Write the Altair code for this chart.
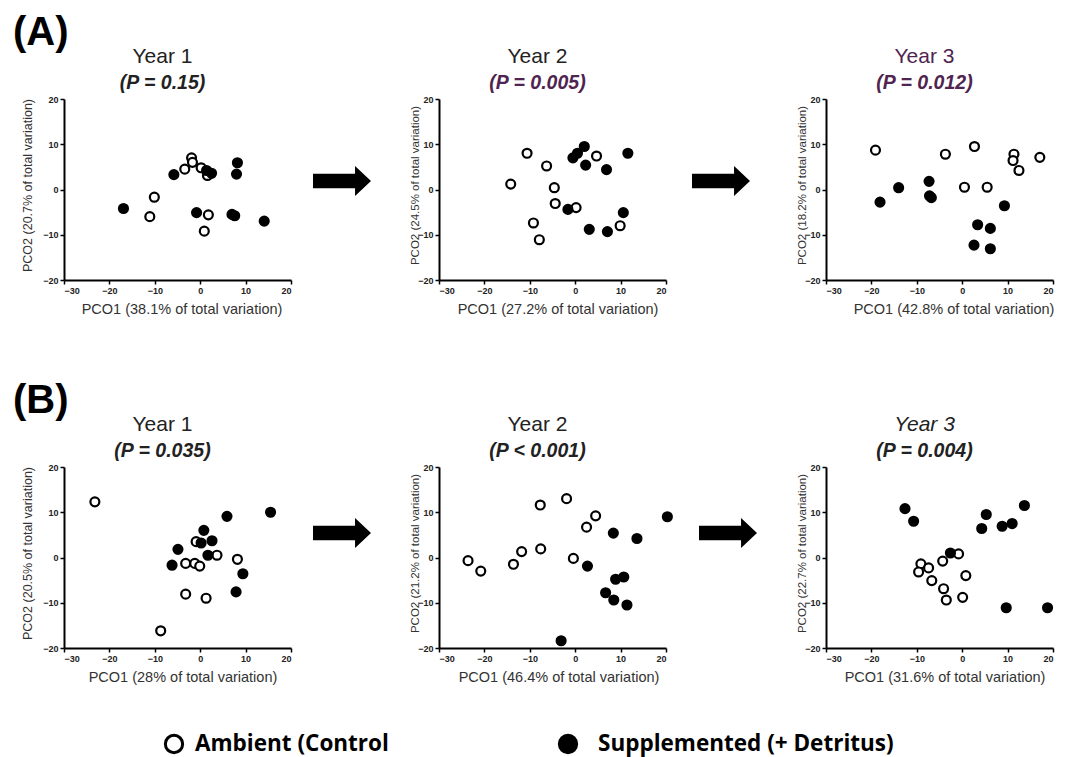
import altair as alt
import pandas as pd

# ---------------- data (PCO1, PCO2) ----------------
A1_AMB = [(-10.1, -1.7), (-11.1, -6.0), (1.8, -5.6), (0.9, -9.2), (-1.9, 7.0),
          (-1.7, 6.0), (-3.4, 4.5), (0.2, 4.8), (2.2, 3.6), (1.6, 3.1)]
A1_SUP = [(-16.9, -4.2), (-5.8, 3.3), (-0.8, -5.1), (1.4, 4.2), (2.5, 3.6),
          (8.2, 5.9), (8.0, 3.4), (7.0, -5.5), (7.6, -5.8), (14.1, -7.0)]

A2_AMB = [(-14.2, 1.2), (-10.6, 8.0), (-6.3, 5.2), (-4.6, 0.4), (-4.4, -3.1),
          (-9.2, -7.4), (-7.9, -11.1), (0.2, -4.0), (4.7, 7.4), (9.9, -8.0)]
A2_SUP = [(-0.5, 7.0), (0.5, 8.0), (2.0, 9.5), (2.3, 5.4), (6.9, 4.4),
          (11.6, 8.0), (-1.6, -4.4), (3.1, -8.8), (7.1, -9.3), (10.6, -5.1)]

A3_AMB = [(-19.1, 8.7), (-3.7, 7.8), (2.7, 9.5), (0.5, 0.5), (5.5, 0.5),
          (11.4, 7.8), (11.2, 6.4), (12.5, 4.2), (17.1, 7.1)]
A3_SUP = [(-18.1, -2.8), (-14.0, 0.4), (-7.3, 1.8), (-7.2, -1.4), (-6.8, -1.8),
          (3.4, -7.8), (6.2, -8.6), (2.6, -12.3), (6.2, -13.1), (9.3, -3.6)]

B1_AMB = [(-23.2, 12.3), (-8.7, -16.2), (-3.2, -8.1), (1.3, -9.0), (-3.2, -1.3),
          (-1.2, -1.3), (-0.1, -1.9), (-0.9, 3.5), (3.7, 0.5), (8.2, -0.4)]
B1_SUP = [(-4.9, 1.8), (-6.2, -1.7), (0.8, 6.0), (0.2, 3.2), (2.6, 3.7),
          (1.7, 0.5), (5.9, 9.1), (15.5, 10.0), (9.4, -3.6), (7.9, -7.6)]

B2_AMB = [(-23.6, -0.7), (-20.8, -3.0), (-13.6, -1.5), (-11.8, 1.3), (-7.6, 1.9),
          (-7.7, 11.6), (-1.9, 13.0), (-0.4, -0.2), (2.5, 6.7), (4.5, 9.2)]
B2_SUP = [(-3.1, -18.4), (2.7, -1.9), (8.4, 5.4), (13.6, 4.2), (20.3, 9.0),
          (6.7, -7.8), (8.5, -9.4), (8.9, -4.8), (10.7, -4.3), (11.4, -10.5)]

B3_AMB = [(-0.8, 0.8), (-4.3, -0.8), (-9.1, -1.4), (-7.4, -2.3), (-9.6, -3.2),
          (-6.7, -5.1), (0.8, -4.0), (-4.1, -6.9), (-3.5, -9.4), (0.1, -8.8)]
B3_SUP = [(-12.6, 10.8), (-10.7, 8.0), (5.3, 9.5), (4.3, 6.4), (8.8, 6.9),
          (11.0, 7.5), (13.7, 11.5), (-2.6, 1.0), (9.7, -11.1), (18.8, -11.1)]

GROUPS = ["Ambient (Control)", "Supplemented (+ Detritus)"]
LEGEND_TEXT = ["Ambient (Control", "Supplemented (+ Detritus)"]
YEARS = ["Year 1", "Year 2", "Year 3"]
P_A = ["(P = 0.15)", "(P = 0.005)", "(P = 0.012)"]
P_B = ["(P = 0.035)", "(P < 0.001)", "(P = 0.004)"]
PCO1_A = ["38.1", "27.2", "42.8"]
PCO2_A = ["20.7", "24.5", "18.2"]
PCO1_B = ["28", "46.4", "31.6"]
PCO2_B = ["20.5", "21.2", "22.7"]
X_TICKS = [-30, -20, -10, 0, 10, 20]
Y_TICKS = [-20, -10, 0, 10, 20]

# ---------------- styling ----------------
W, H = 227, 181
DARK = "#222222"
PURPLE = "#4f2450"
FONT = "Liberation Sans"
BIGFONT = "Open Sans"
ARROW = "M-1,-0.25L0.45,-0.25L0.45,-0.52L1,0L0.45,0.52L0.45,0.25L-1,0.25Z"


def make_df(amb, sup):
    rows = [{"pco1": x, "pco2": y, "group": GROUPS[0]} for x, y in amb]
    rows += [{"pco1": x, "pco2": y, "group": GROUPS[1]} for x, y in sup]
    return pd.DataFrame(rows)


def label(text, x, y, size, color=DARK, weight="normal", style="normal",
          align="center", font=FONT, baseline="alphabetic"):
    return alt.Chart(pd.DataFrame({"t": [text]})).mark_text(
        align=align, baseline=baseline, font=font, fontSize=size,
        fontWeight=weight, fontStyle=style, color=color
    ).encode(x=alt.value(x), y=alt.value(y), text="t:N")


def legend_dot(x, y, fill):
    return alt.Chart(pd.DataFrame({"t": [0]})).mark_point(
        shape="circle", size=300, filled=True, fill=fill, stroke="black",
        strokeWidth=3, opacity=1
    ).encode(x=alt.value(x), y=alt.value(y))


def panel(amb, sup, year, ptxt, pco1, pco2, col, ycolor=DARK, pcolor=DARK,
          yitalic=False, xt_dx=5, extra=()):
    df = make_df(amb, sup)
    pts = alt.Chart(df).mark_circle(
        size=80, stroke="black", strokeWidth=2.2, opacity=1
    ).encode(
        x=alt.X("pco1:Q", scale=alt.Scale(domain=[-30, 20], nice=False, zero=False),
                axis=alt.Axis(values=X_TICKS, title=f"PCO1 ({pco1}% of total variation)",
                              titleFontSize=14.5, titleX=W / 2 + xt_dx, titleY=22)),
        y=alt.Y("pco2:Q", scale=alt.Scale(domain=[-20, 20], nice=False, zero=False),
                axis=alt.Axis(values=Y_TICKS, title=f"PCO2 ({pco2}% of total variation)",
                              titleFontSize=12.5 if col == 0 else 11.5,
                              titleX=-36.5 if col == 0 else -24, titleY=86,
                              titleBaseline="middle")),
        fill=alt.Fill("group:N", scale=alt.Scale(domain=GROUPS, range=["white", "black"]),
                      legend=None),
    )
    layers = [
        pts,
        label(year, W / 2 - 15, -36, 21, color=ycolor,
              style="italic" if yitalic else "normal"),
        label(ptxt, W / 2 - 15, -10, 19.5, color=pcolor, weight="bold", style="italic"),
    ] + list(extra)
    return alt.layer(*layers).properties(width=W, height=H)


def arrow(w, cx, cy):
    return alt.Chart(pd.DataFrame({"a": [0]})).mark_point(
        shape=ARROW, size=3364, filled=True, color="black", opacity=1, strokeWidth=0
    ).encode(x=alt.value(cx), y=alt.value(cy)).properties(width=w, height=H)


A1 = panel(A1_AMB, A1_SUP, YEARS[0], P_A[0], PCO1_A[0], PCO2_A[0], 0, xt_dx=4,
           extra=[label("(A)", -51, -66, 40, color="black", weight="bold",
                        align="left", font=FONT, baseline="middle")])
A2 = panel(A2_AMB, A2_SUP, YEARS[1], P_A[1], PCO1_A[1], PCO2_A[1], 1, pcolor=PURPLE)
A3 = panel(A3_AMB, A3_SUP, YEARS[2], P_A[2], PCO1_A[2], PCO2_A[2], 2,
           ycolor=PURPLE, pcolor=PURPLE, xt_dx=14)
B1 = panel(B1_AMB, B1_SUP, YEARS[0], P_B[0], PCO1_B[0], PCO2_B[0], 0,
           extra=[label("(B)", -51, -66, 40, color="black", weight="bold",
                        align="left", font=FONT, baseline="middle"),
                  legend_dot(110, 277, "white"),
                  label(LEGEND_TEXT[0], 131, 277, 22.5, color="black", weight="bold",
                        align="left", font=BIGFONT, baseline="middle")])
B2 = panel(B2_AMB, B2_SUP, YEARS[1], P_B[1], PCO1_B[1], PCO2_B[1], 1, xt_dx=6,
           extra=[legend_dot(129, 277, "black"),
                  label(LEGEND_TEXT[1], 159, 277, 22.5, color="black", weight="bold",
                        align="left", font=BIGFONT, baseline="middle")])
B3 = panel(B3_AMB, B3_SUP, YEARS[2], P_B[2], PCO1_B[2], PCO2_B[2], 2, yitalic=True)

chart = alt.concat(
    A1, arrow(148, 51, 82), A2, arrow(160, 55, 82), A3,
    B1, arrow(148, 51, 66), B2, arrow(160, 62, 66), B3,
    columns=5, spacing={"row": 187, "column": 0}, bounds="flush",
).properties(
    padding={"left": 5, "top": 5, "right": 5, "bottom": 0}
).configure_view(stroke=None).configure_axis(
    grid=False, domainColor="black", domainWidth=2, tickColor="black",
    tickWidth=1.5, tickSize=4, labelFont=FONT, labelFontWeight="bold",
    labelFontSize=9, labelColor=DARK, labelPadding=2, titleFont=FONT,
    titleFontWeight="normal", titleColor="#333333",
)

chart.save("out.html", embed_options={"renderer": "svg", "actions": False})
